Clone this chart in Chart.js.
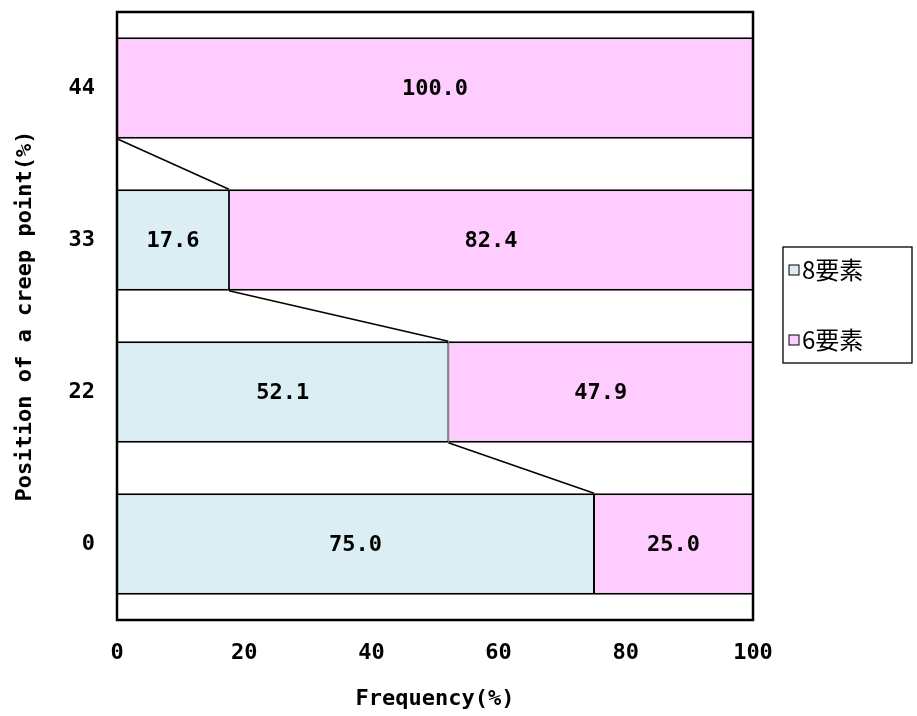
<!DOCTYPE html>
<html>
<head>
<meta charset="utf-8">
<script src="https://cdn.jsdelivr.net/npm/chart.js@4/dist/chart.umd.min.js"></script>
<style>
  html, body { margin: 0; padding: 0; background: #fff; }
  #wrap { width: 917px; height: 716px; }
</style>
</head>
<body>
<div id="wrap"><canvas id="c" width="917" height="716"></canvas></div>
<script>
// Creep point position (bottom to top) and share of each element type (%)
const positions = ['0', '22', '33', '44'];
const eightElem = [75.0, 52.1, 17.6, 0.0];
const sixElem = [25.0, 47.9, 82.4, 100.0];
const seriesNames = ['8要素', '6要素'];
const xTicks = [0, 20, 40, 60, 80, 100];

const FONT = "'DejaVu Sans Mono', 'Liberation Mono', monospace";
const CJK = "'Noto Sans CJK JP', sans-serif";
const colors = ['#DAEEF3', '#FFCCFF'];

// Lines joining the end of the 8要素 segment between neighbouring bars
const seriesLines = {
  id: 'seriesLines',
  afterDatasetsDraw(chart) {
    const ctx = chart.ctx;
    const meta = chart.getDatasetMeta(0);
    const xs = chart.scales.x;
    ctx.save();
    ctx.strokeStyle = '#000';
    ctx.lineWidth = 1.5;
    for (let i = 0; i < positions.length - 1; i++) {
      const lower = meta.data[i], upper = meta.data[i + 1];
      const x1 = xs.getPixelForValue(eightElem[i]);
      const y1 = lower.y - lower.height / 2;
      const x2 = xs.getPixelForValue(eightElem[i + 1]);
      const y2 = upper.y + upper.height / 2;
      ctx.beginPath();
      ctx.moveTo(x1, y1);
      ctx.lineTo(x2, y2);
      ctx.stroke();
    }
    ctx.restore();
  }
};

// Value labels centred in each segment
const valueLabels = {
  id: 'valueLabels',
  afterDatasetsDraw(chart) {
    const ctx = chart.ctx;
    ctx.save();
    ctx.fillStyle = '#000';
    ctx.font = 'bold 22px ' + FONT;
    ctx.textAlign = 'center';
    ctx.textBaseline = 'middle';
    chart.data.datasets.forEach((ds, di) => {
      const meta = chart.getDatasetMeta(di);
      meta.data.forEach((bar, i) => {
        const v = ds.data[i];
        if (!v) return;
        const cx = (bar.x + bar.base) / 2;
        ctx.fillText(v.toFixed(1), cx, bar.y + 1);
      });
    });
    ctx.restore();
  }
};

// Plot frame and boxed legend on the right
const frameAndLegend = {
  id: 'frameAndLegend',
  afterDraw(chart) {
    const ctx = chart.ctx;
    const a = chart.chartArea;
    ctx.save();
    ctx.strokeStyle = '#000';
    ctx.lineWidth = 2.5;
    ctx.strokeRect(a.left, a.top, a.right - a.left, a.bottom - a.top);

    const lx = a.right + 30, ly = 247, lw = 129, lh = 116;
    ctx.lineWidth = 1.3;
    ctx.strokeRect(lx, ly, lw, lh);
    ctx.font = '24px ' + CJK;
    ctx.textBaseline = 'middle';
    ctx.textAlign = 'left';
    seriesNames.forEach((name, i) => {
      const cy = ly + 23 + i * 70;
      ctx.fillStyle = colors[i];
      ctx.fillRect(lx + 6, cy - 5, 10, 10);
      ctx.strokeStyle = '#000';
      ctx.lineWidth = 1;
      ctx.strokeRect(lx + 6, cy - 5, 10, 10);
      ctx.fillStyle = '#000';
      ctx.fillText(name, lx + 19, cy);
    });
    ctx.restore();
  }
};

new Chart(document.getElementById('c'), {
  type: 'bar',
  data: {
    labels: positions,
    datasets: [
      { label: seriesNames[0], data: eightElem, backgroundColor: colors[0] },
      { label: seriesNames[1], data: sixElem, backgroundColor: colors[1] }
    ].map(d => Object.assign(d, {
      borderColor: '#000', borderWidth: { top: 2, bottom: 2, left: 1, right: 1 }, borderSkipped: false,
      categoryPercentage: 1, barPercentage: 0.667
    }))
  },
  options: {
    indexAxis: 'y',
    responsive: false,
    animation: false,
    devicePixelRatio: 1,
    layout: { padding: { top: 12, right: 164, left: 0, bottom: 0 } },
    plugins: { legend: { display: false }, tooltip: { enabled: false } },
    scales: {
      x: {
        stacked: true, min: 0, max: 100,
        afterBuildTicks(s) { s.ticks = xTicks.map(v => ({ value: v })); },
        afterFit(s) { s.height = 96; },
        grid: { display: false, drawTicks: false },
        border: { display: false },
        ticks: { color: '#000', padding: 20, font: { family: FONT, size: 22, weight: 'bold' } },
        title: { display: true, text: 'Frequency(%)', color: '#000', padding: { top: 0, bottom: 4 },
                 font: { family: FONT, size: 22, weight: 'bold' } }
      },
      y: {
        stacked: true, reverse: true,
        afterFit(s) { s.width = 117; s.paddingTop = 0; s.paddingBottom = 0; },
        grid: { display: false, drawTicks: false },
        border: { display: false },
        ticks: { color: '#000', padding: 22, font: { family: FONT, size: 22, weight: 'bold' } },
        title: { display: true, text: 'Position of a creep point(%)', color: '#000', padding: { top: 12, bottom: 0 },
                 font: { family: FONT, size: 22, weight: 'bold' } }
      }
    }
  },
  plugins: [seriesLines, valueLabels, frameAndLegend]
});
</script>
</body>
</html>
